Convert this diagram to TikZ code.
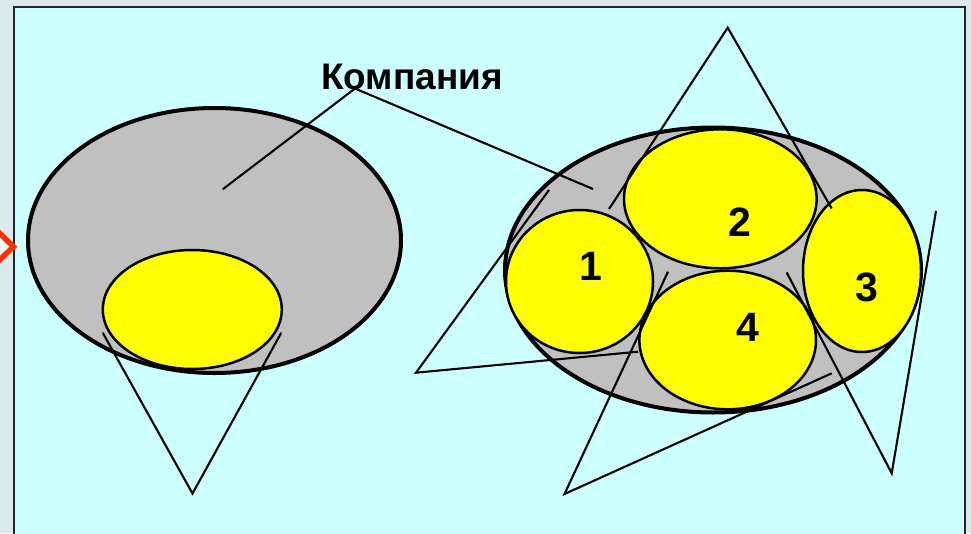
\documentclass[tikz,border=0pt]{standalone}
\usepackage{fontspec}
\setmainfont{Liberation Sans}
\definecolor{outerbg}{HTML}{DBEAED}
\definecolor{panel}{HTML}{CCFFFF}
\definecolor{grayfill}{HTML}{C0C0C0}
\definecolor{yel}{HTML}{FFFF00}
\definecolor{chev}{HTML}{FF3300}
\tikzset{
  bigell/.style={fill=grayfill, draw=black, line width=4pt},
  yelell/.style={fill=yel, draw=black, line width=2.5pt},
  thinline/.style={draw=black, line width=2.1pt, line join=miter},
  titletext/.style={font=\bfseries\fontsize{37}{41}\selectfont, inner sep=0pt},
  digit/.style={font=\bfseries\fontsize{41}{45}\selectfont, inner sep=0pt}
}
\begin{document}
\begin{tikzpicture}[x=1pt,y=-1pt]
\useasboundingbox (0,0) rectangle (971,533);
\clip (0,0) rectangle (971,533);
\fill[outerbg] (0,0) rectangle (971,533);
\draw[fill=panel, draw=black!85, line width=2pt] (13.5,6.5) rectangle (965,560);
% orange chevron
\draw[chev, fill=white, line width=5.5pt, line join=miter] (-12,222) -- (13.5,246.7) -- (-12,271) -- cycle;

% left ellipse
\path[bigell] (214.5,240.5) ellipse [x radius=186.5pt, y radius=132.5pt];
\path[yelell] (192.3,309.5) ellipse [x radius=89.5pt, y radius=59.5pt];

% right ellipse
\path[bigell] (713,270) ellipse [x radius=208pt, y radius=142.5pt];
\path[yelell] (720.3,198.8) ellipse [x radius=96.3pt, y radius=69.5pt];
\path[yelell] (579.5,281.5) ellipse [x radius=73.5pt, y radius=71.5pt];
\path[yelell] (862,271) ellipse [x radius=59pt, y radius=81pt];
\path[yelell] (727.7,340) ellipse [x radius=88.3pt, y radius=69.3pt];

% labels
\node[titletext, anchor=base] (title) at (412,89) {Компания};
\node[digit, anchor=base] (n1) at (591,280) {1};
\node[digit, anchor=base] (n2) at (740,236.7) {2};
\node[digit, anchor=base] (n3) at (867,301) {3};
\node[digit, anchor=base] (n4) at (748,341.7) {4};

% coordinates
\coordinate (k) at (355,88.5);
\coordinate (kL) at (222.7,189.3);
\coordinate (kR) at (593,189);
\coordinate (vL) at (102.7,332.7);
\coordinate (vB) at (192.5,493.5);
\coordinate (vR) at (281.3,332.7);
\coordinate (apex) at (727.7,27.7);
\coordinate (aL) at (609,209);
\coordinate (aR) at (831.7,208.5);
\coordinate (cT) at (549,190);
\coordinate (cB) at (416,372.7);
\coordinate (dE) at (638,351.7);
\coordinate (eT) at (668,271.7);
\coordinate (eB) at (564.5,494);
\coordinate (fE) at (831.7,373.3);
\coordinate (gT) at (786.7,272.5);
\coordinate (gB) at (891.7,473.3);
\coordinate (hT) at (936,211);

% lines
\draw[thinline] (kL) -- (k) -- (kR);
\draw[thinline] (vL) -- (vB) -- (vR);
\draw[thinline] (aL) -- (apex) -- (aR);
\draw[thinline] (cT) -- (cB) -- (dE);
\draw[thinline] (eT) -- (eB) -- (fE);
\draw[thinline] (gT) -- (gB) -- (hT);
\end{tikzpicture}
\end{document}
